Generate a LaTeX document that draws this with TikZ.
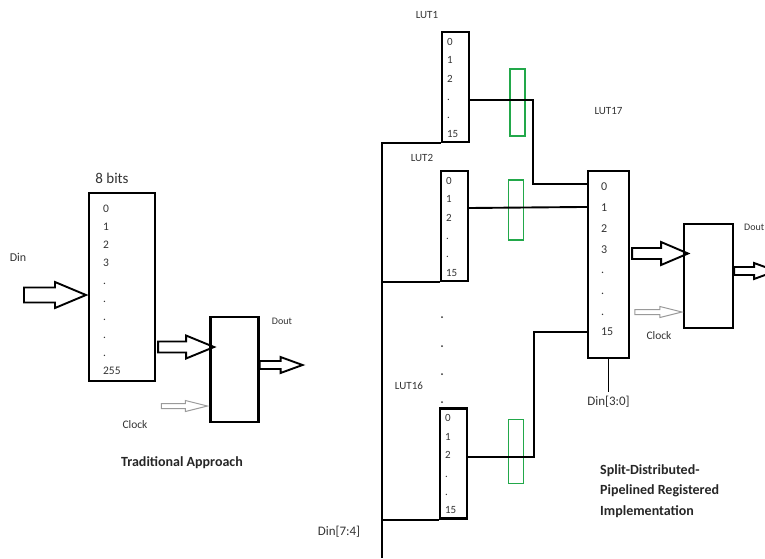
\documentclass[tikz,border=0pt]{standalone}
\usepackage{fontspec}
\setmainfont{Carlito}
\usetikzlibrary{calc,positioning}
\definecolor{regreen}{HTML}{22A84A}
\definecolor{labelgray}{HTML}{333333}
\definecolor{clkgray}{HTML}{9A9A9A}
\tikzset{
  membox/.style={draw, line width=2.1pt, inner sep=0pt},
  lutbox/.style={membox, minimum width=27pt, minimum height=110pt},
  ffbox/.style={membox, minimum width=48pt, minimum height=105pt},
  regbox/.style={draw=regreen, line width=1.3pt, minimum width=15pt, minimum height=64pt, inner sep=0pt},
  numlist/.style={align=left, inner sep=0pt, anchor=north west, text=labelgray, font=\fontsize{11}{18.4}\selectfont},
  lbl/.style={text=labelgray, font=\fontsize{11}{13}\selectfont, inner sep=0pt},
  title/.style={font=\bfseries\fontsize{14}{20.5}\selectfont, text=black!85, align=left, inner sep=0pt},
  wire/.style={line width=1.9pt},
  fatarr/.style={line width=1.9pt, line join=miter},
  clkarr/.style={draw=clkgray, line width=1pt}
}
% hollow block arrow: [style] tail, length, shaft width, head width, head length
\newcommand\hollowarrow[6][fatarr]{%
  \draw[#1] (#2) ++(0,#4/2) -- ++(#3-#6,0) -- ++(0,#5/2-#4/2) -- ++(#6,-#5/2)
    -- ++(-#6,-#5/2) -- ++(0,#5/2-#4/2) -- ++(#6-#3,0) -- cycle;}

\begin{document}
\begin{tikzpicture}[x=1pt,y=-1pt]
  \useasboundingbox (0,0) rectangle (765,558);
  \clip (0,0) rectangle (765,558);
  % traditional approach
  \node[membox, minimum width=66pt, minimum height=188pt] (mem) at (122,287) {};
  \node[numlist, font=\fontsize{11.5}{18}\selectfont] (memlist) at ($(mem.north west)+(15,13)$) {0\\1\\2\\3\\.\\.\\.\\.\\.\\255};
  \node[ffbox] (ff1) at (234.5,369.5) {};
  \node[text=labelgray, font=\fontsize{15}{17}\selectfont, inner sep=0pt] (bits) at (112,178) {8 bits};
  \node[lbl, font=\fontsize{12}{14}\selectfont] (din) at (18,257) {Din};
  \node[lbl, font=\fontsize{10}{12}\selectfont] (dout1) at (282,321) {Dout};
  \node[lbl, font=\fontsize{11.5}{13}\selectfont] (clk1) at (135,425) {Clock};
  \node[title] (trad) at (182,463) {Traditional Approach};
  \coordinate (dintail) at (24,295);
  \hollowarrow{dintail}{62}{15}{26}{31}
  \hollowarrow{$(mem.east)+(2,60)$}{56}{11}{23}{28}
  \hollowarrow{$(ff1.east)+(0,-4.5)$}{43}{8}{16}{22}
  \hollowarrow[clkarr]{$(ff1.west)+(-48,36.5)$}{46}{5}{11}{22}

  % split-distributed approach
  \node[lutbox] (lut1) at (455.5,87) {};
  \node[lutbox] (lut2) at (454.5,226) {};
  \node[lutbox] (lut16) at (453.5,463.5) {};
  \node[lutbox, minimum width=41pt, minimum height=187pt] (lut17) at (608.5,264.5) {};
  \node[ffbox, minimum width=49pt, minimum height=104pt] (ff2) at (708.5,276) {};
  \foreach \l in {lut1,lut2,lut16}
    \node[numlist] (\l-list) at ($(\l.north west)+(6,7)$) {0\\1\\2\\.\\.\\15};
  \node[numlist, font=\fontsize{12}{20.7}\selectfont] (lut17-list) at ($(lut17.north west)+(14,13)$) {0\\1\\2\\3\\.\\.\\.\\15};
  \node[lbl] (lut1-lbl) at ($(lut1.north west)+(-14,-16)$) {LUT1};
  \node[lbl] (lut2-lbl) at ($(lut2.north west)+(-18,-12)$) {LUT2};
  \node[lbl] (lut16-lbl) at ($(lut16.north west)+(-30,-22)$) {LUT16};
  \node[lbl] (lut17-lbl) at ($(lut17.north)+(0,-59)$) {LUT17};

  % pipeline registers
  \node[regbox, minimum height=67pt] (reg1) at (517.5,102.5) {};
  \node[regbox, minimum height=60pt] (reg2) at (516,210) {};
  \node[regbox] (reg16) at (516,451.5) {};

  % LUT outputs into LUT17
  \coordinate (in0) at ($(lut17.north west)+(0,14)$);
  \coordinate (in1) at ($(lut17.north west)+(0,37)$);
  \coordinate (in15) at ($(lut17.south west)+(0,-27)$);
  \draw[wire] ($(lut1.east)+(0,13)$) -| ($(in0)+(-54,0)$) -- (in0);
  \draw[wire] ($(lut2.east)+(0,-18)$) -- (in1);
  \draw[wire] ($(lut16.east)+(0,-6.5)$) -| ($(in15)+(-53,0)$) -- (in15);

  % address bus
  \coordinate (busend) at (382,558);
  \draw[wire] (lut1.south west) -| (busend);
  \draw[wire] (lut2.south west) -- (lut2.south west -| busend);
  \draw[wire] (lut16.south west) -- (lut16.south west -| busend);
  \node[lbl, font=\fontsize{13}{15}\selectfont] (din74) at (339,532) {Din[7:4]};
  \foreach \y in {317,346,374,402}
    \fill[labelgray] (442,\y) circle (1pt);
  \draw[wire] (lut17.south) -- ++(0,33) coordinate (din30end);
  \node[lbl, font=\fontsize{13}{15}\selectfont, below=4pt of din30end] (din30) {Din[3:0]};

  \hollowarrow{$(lut17.east)+(2,-11)$}{56}{11}{23}{27}
  \hollowarrow{$(ff2.east)+(0,-5)$}{42}{8}{16}{22}
  \hollowarrow[clkarr]{$(ff2.west)+(-48,36)$}{47}{5}{11}{22}
  \node[lbl, font=\fontsize{10}{12}\selectfont, anchor=west] (dout2) at (744,227) {Dout};
  \node[lbl, font=\fontsize{11.5}{13}\selectfont] (clk2) at (659,336) {Clock};
  \node[title, anchor=north west] (split) at (600,464) {Split-Distributed-\\Pipelined Registered\\Implementation};
\end{tikzpicture}
\end{document}
